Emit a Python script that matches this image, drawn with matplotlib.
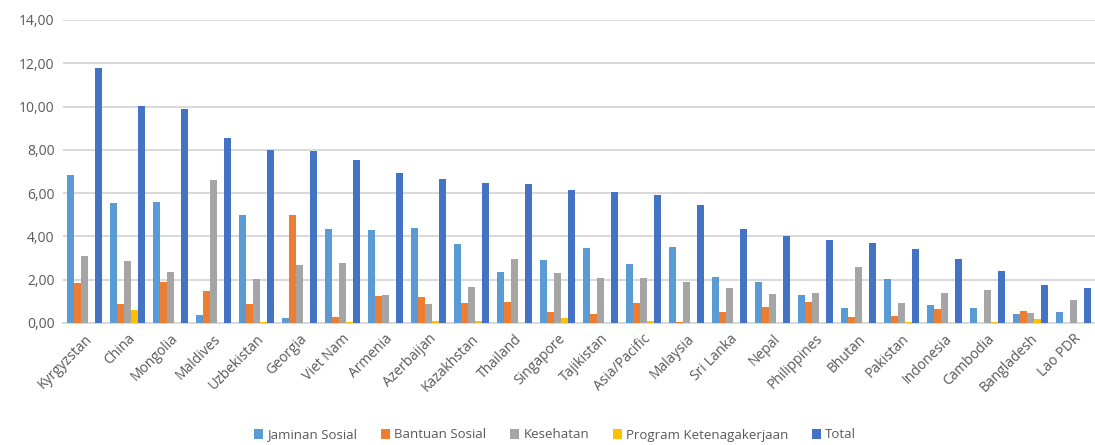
import numpy as np
import matplotlib.pyplot as plt

countries = ['Kyrgyzstan', 'China', 'Mongolia', 'Maldives', 'Uzbekistan', 'Georgia',
             'Viet Nam', 'Armenia', 'Azerbaijan', 'Kazakhstan', 'Thailand', 'Singapore',
             'Tajikistan', 'Asia/Pacific', 'Malaysia', 'Sri Lanka', 'Nepal', 'Philippines',
             'Bhutan', 'Pakistan', 'Indonesia', 'Cambodia', 'Bangladesh', 'Lao PDR']

jaminan = [6.82, 5.53, 5.61, 0.38, 4.99, 0.24, 4.36, 4.31, 4.39, 3.67, 2.36, 2.91,
           3.45, 2.73, 3.50, 2.14, 1.88, 1.30, 0.71, 2.02, 0.82, 0.71, 0.40, 0.49]
bantuan = [1.86, 0.87, 1.90, 1.49, 0.87, 4.99, 0.29, 1.27, 1.21, 0.92, 0.97, 0.52,
           0.43, 0.92, 0.05, 0.49, 0.75, 0.97, 0.26, 0.31, 0.66, 0.0, 0.54, 0.0]
kesehatan = [3.11, 2.88, 2.35, 6.61, 2.04, 2.67, 2.75, 1.31, 0.90, 1.66, 2.96, 2.32,
             2.06, 2.06, 1.88, 1.62, 1.34, 1.39, 2.59, 0.94, 1.39, 1.51, 0.45, 1.06]
program = [0.0, 0.60, 0.0, 0.0, 0.06, 0.0, 0.06, 0.0, 0.07, 0.07, 0.0, 0.23,
           0.0, 0.07, 0.0, 0.0, 0.0, 0.0, 0.0, 0.05, 0.0, 0.05, 0.18, 0.0]
total = [11.79, 10.01, 9.91, 8.53, 8.00, 7.95, 7.54, 6.91, 6.64, 6.45, 6.41, 6.13,
         6.04, 5.91, 5.45, 4.34, 4.03, 3.82, 3.71, 3.42, 2.96, 2.42, 1.76, 1.62]

series = [('Jaminan Sosial', jaminan, '#5B9BD5'),
          ('Bantuan Sosial', bantuan, '#ED7D31'),
          ('Kesehatan', kesehatan, '#A5A5A5'),
          ('Program Ketenagakerjaan', program, '#FFC000'),
          ('Total', total, '#4472C4')]

plt.rcParams['font.family'] = ['Open Sans', 'DejaVu Sans']
txt = '#595959'

fig = plt.figure(figsize=(10.95, 4.45), dpi=100)
ax = fig.add_axes([63 / 1095, 122 / 445, 1 - 63 / 1095, 303 / 445])

x = np.arange(len(countries))
w = 0.163
for i, (name, vals, col) in enumerate(series):
    ax.bar(x + (i - 2) * w, vals, width=w, color=col, label=name, zorder=3)

ax.set_xlim(-0.5, len(countries) - 0.5)
ax.set_ylim(0, 14)
ax.set_yticks(np.arange(0, 15, 2))
ax.set_yticklabels([f'{v:.2f}'.replace('.', ',') for v in np.arange(0, 15, 2)],
                   color=txt, fontsize=10)
ax.set_xticks(x)
ax.set_xticklabels(countries, rotation=45, ha='right', va='top',
                   rotation_mode='anchor', color=txt, fontsize=10)
ax.tick_params(axis='both', length=0, pad=6)
ax.grid(axis='y', color='#D9D9D9', linewidth=1.4, zorder=0)
for s in ['top', 'right', 'left']:
    ax.spines[s].set_visible(False)
ax.spines['bottom'].set_color('#D9D9D9')
ax.spines['bottom'].set_linewidth(1.4)

fig.legend(loc='center', bbox_to_anchor=(0.507, 10 / 445), ncol=5, frameon=False,
           fontsize=9.5, labelcolor=txt, handlelength=0.7, handleheight=0.7,
           handletextpad=0.3, columnspacing=1.8)

plt.savefig('out.png', dpi=100)
